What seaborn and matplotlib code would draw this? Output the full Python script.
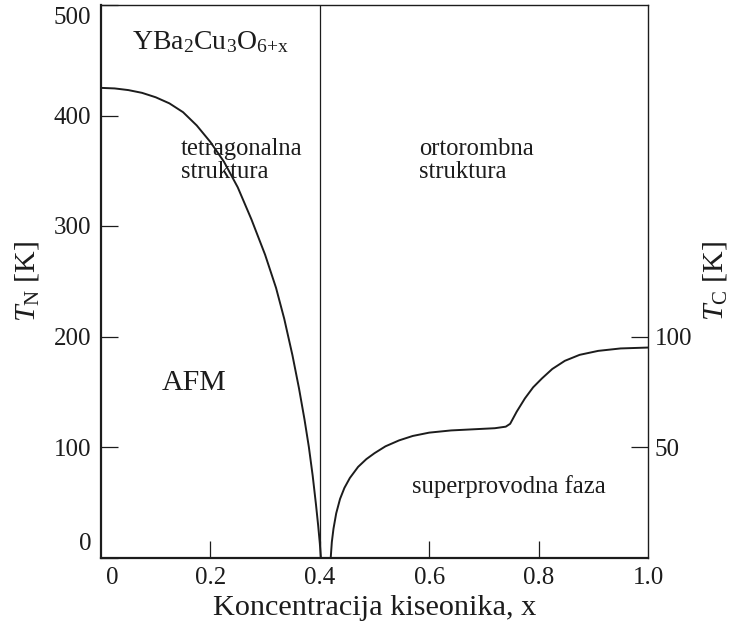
import matplotlib
matplotlib.use("Agg")
import matplotlib.pyplot as plt
import matplotlib.transforms as mtransforms
import seaborn as sns
import pandas as pd

# Neel temperature of the antiferromagnetic phase (left axis, K)
x_neel = [0.000, 0.025, 0.050, 0.075, 0.100, 0.125, 0.150, 0.175, 0.200,
          0.225, 0.250, 0.275, 0.300, 0.320, 0.335, 0.350, 0.362, 0.372,
          0.380, 0.387, 0.393, 0.397, 0.400, 0.402]
t_neel = [425, 424.5, 423, 420.5, 416.5, 411, 403, 391, 376,
          358, 335, 306, 274, 244, 216, 183, 153, 125,
          100, 74, 48, 29, 13, 0]

# Superconducting transition temperature (right axis, K)
x_sc = [0.420, 0.422, 0.425, 0.430, 0.437, 0.445, 0.455, 0.470, 0.485, 0.500,
        0.520, 0.545, 0.570, 0.600, 0.640, 0.680, 0.720, 0.740, 0.748, 0.760,
        0.775, 0.790, 0.806, 0.825, 0.848, 0.875, 0.909, 0.950, 1.000]
t_sc = [0, 7, 13, 20, 26.5, 31.5, 36, 41, 44.5, 47.2,
        50.3, 53, 55, 56.5, 57.5, 58, 58.5, 59.2, 60.5, 66,
        72, 77, 81, 85.3, 89, 91.7, 93.5, 94.6, 95]

x_ticks = [0, 0.2, 0.4, 0.6, 0.8, 1.0]
x_ticklabels = ["0", "0.2", "0.4", "0.6", "0.8", "1.0"]
tn_ticks = [0, 100, 200, 300, 400, 500]
tc_ticks = [50, 100]
boundary_x = 0.4

sns.set_theme(style="ticks")
ink = "#1c1c1c"
plt.rcParams.update({
    "font.family": ["Liberation Serif", "DejaVu Serif"],
    "mathtext.fontset": "custom",
    "mathtext.rm": "Liberation Serif",
    "mathtext.it": "Liberation Serif:italic",
    "mathtext.bf": "Liberation Serif:bold",
    "text.color": ink,
    "axes.labelcolor": ink,
    "xtick.color": ink,
    "ytick.color": ink,
    "axes.edgecolor": ink,
})

fig = plt.figure(figsize=(7.36, 6.33), dpi=100)
ax = fig.add_axes([101 / 736, 1 - 557.5 / 633, 547 / 736, 552.5 / 633])

neel = pd.DataFrame({"x": x_neel, "T": t_neel})
sns.lineplot(data=neel, x="x", y="T", ax=ax, color=ink, lw=1.4)

ax.axvline(boundary_x, color=ink, lw=0.9)

ax.set_xlim(0, 1.0)
ax.set_ylim(0, 500)
ax.set_xticks(x_ticks)
ax.set_xticklabels(x_ticklabels)
ax.set_yticks(tn_ticks)
ax.tick_params(axis="both", direction="in", length=12.5, width=0.9,
               labelsize=18)
ax.tick_params(axis="x", pad=7)
ax.tick_params(axis="y", pad=7)
for side in ("left", "bottom"):
    ax.spines[side].set_linewidth(1.6)
for side in ("top", "right"):
    ax.spines[side].set_linewidth(1.0)

# no tick marks where they would sit on a spine
for t in (ax.xaxis.get_major_ticks()[0], ax.xaxis.get_major_ticks()[-1],
          ax.yaxis.get_major_ticks()[0], ax.yaxis.get_major_ticks()[-1]):
    t.tick1line.set_visible(False)

# nudge corner labels away from the spines
xl = ax.get_xticklabels()
xl[0].set_transform(xl[0].get_transform() +
                    mtransforms.ScaledTranslation(11 / 100, 0, fig.dpi_scale_trans))
yl = ax.get_yticklabels()
yl[0].set_transform(yl[0].get_transform() +
                    mtransforms.ScaledTranslation(0, 16 / 100, fig.dpi_scale_trans))
yl[-1].set_transform(yl[-1].get_transform() +
                     mtransforms.ScaledTranslation(0, -11 / 100, fig.dpi_scale_trans))

ax.set_xlabel("Koncentracija kiseonika, x", fontsize=21.8, labelpad=4)
ax.set_ylabel(r"$T_{\mathrm{N}}$ [K]", fontsize=21.5, labelpad=9)

ax2 = ax.twinx()
sc = pd.DataFrame({"x": x_sc, "T": t_sc})
sns.lineplot(data=sc, x="x", y="T", ax=ax2, color=ink, lw=1.4)
ax2.set_ylim(0, 250)
ax2.set_yticks(tc_ticks)
ax2.tick_params(axis="y", direction="in", length=12, width=0.9,
                labelsize=18, pad=5)
ax2.set_ylabel(r"$T_{\mathrm{C}}$ [K]", fontsize=21.5, labelpad=6)
for s in ax2.spines.values():
    s.set_visible(False)

# region labels
ax.text(0.056, 460, r"YBa$_2$Cu$_3$O$_{\mathrm{6{+}x}}$", fontsize=20)
ax.text(0.146, 343, "tetragonalna\nstruktura", fontsize=17.7,
        linespacing=1.08, va="baseline")
ax.text(0.582, 343, "ortorombna\nstruktura", fontsize=17.7,
        linespacing=1.08, va="baseline")
ax.text(0.111, 152, "AFM", fontsize=21.5)
ax.text(0.568, 58, "superprovodna faza", fontsize=17.7)

fig.savefig("out.png", dpi=100)
